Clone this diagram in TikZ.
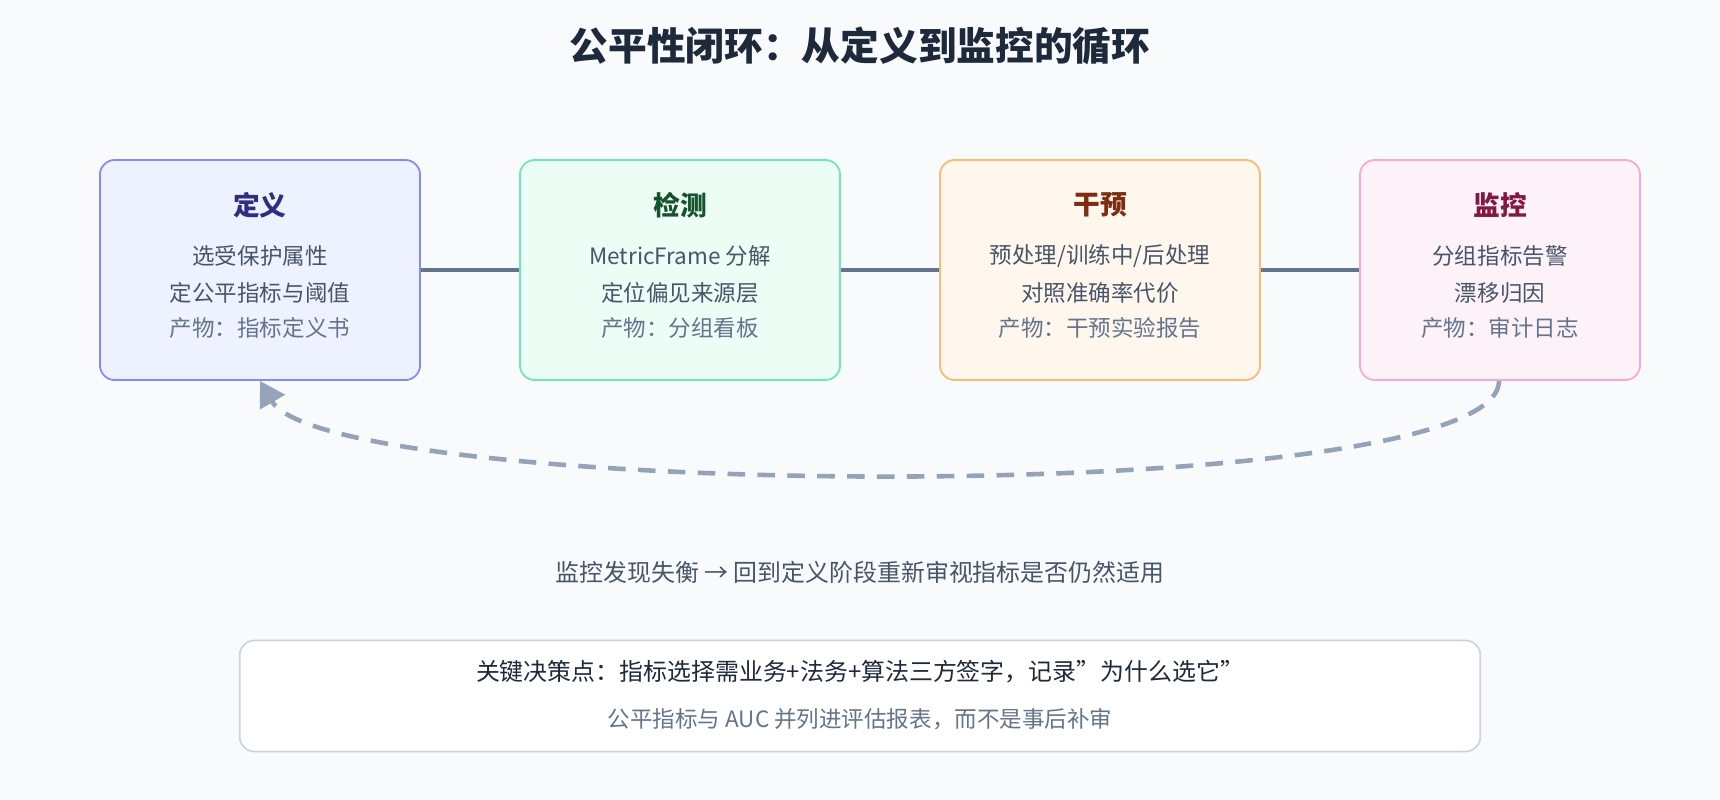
\documentclass[tikz,border=0pt]{standalone}
\usepackage{fontspec}
\setmainfont{Noto Sans CJK SC}
\usetikzlibrary{arrows.meta}
\definecolor{bg}{HTML}{F8FAFC}
\definecolor{ink}{HTML}{1E293B}
\definecolor{body}{HTML}{475569}
\definecolor{muted}{HTML}{64748B}
\definecolor{loopc}{HTML}{94A3B8}
\definecolor{f1}{HTML}{EEF2FF}\definecolor{s1}{HTML}{818CF8}\definecolor{t1}{HTML}{312E81}
\definecolor{f2}{HTML}{ECFDF5}\definecolor{s2}{HTML}{6EE7B7}\definecolor{t2}{HTML}{14532D}
\definecolor{f3}{HTML}{FFF7ED}\definecolor{s3}{HTML}{FDBA74}\definecolor{t3}{HTML}{7C2D12}
\definecolor{f4}{HTML}{FDF2F8}\definecolor{s4}{HTML}{F9A8D4}\definecolor{t4}{HTML}{831843}
\definecolor{s5}{HTML}{CBD5E1}

\begin{document}
\begin{tikzpicture}[x=0.01cm,y=-0.01cm,
    stage/.style={draw,rounded corners=0.15cm,line width=0.5pt,minimum height=2.2cm},
    head/.style={font=\fontsize{7.6}{9}\selectfont\bfseries},
    line/.style={font=\fontsize{6.4}{8}\selectfont,text=body},
    prod/.style={font=\fontsize{6.4}{8}\selectfont,text=muted},
    link/.style={draw=muted,line width=0.9pt}]
      \fill[bg] (0,0) rectangle (1720,800);
      \useasboundingbox (0,0) rectangle (1720,800);

      \node[font=\fontsize{11}{13}\selectfont\bfseries,text=ink] (title) at (860,46) {公平性闭环：从定义到监控的循环};

      % stages
      \node[stage,draw=s1,fill=f1,minimum width=3.2cm] (def) at (260,270) {};
      \node[stage,draw=s2,fill=f2,minimum width=3.2cm] (det) at (680,270) {};
      \node[stage,draw=s3,fill=f3,minimum width=3.2cm] (int) at (1100,270) {};
      \node[stage,draw=s4,fill=f4,minimum width=2.8cm] (mon) at (1500,270) {};

      \node[head,text=t1] (defh) at (260,205) {定义};
      \node[line] (def1) at (260,256) {选受保护属性};
      \node[line] (def2) at (260,293) {定公平指标与阈值};
      \node[prod] (def3) at (260,328) {产物：指标定义书};

      \node[head,text=t2] (deth) at (680,205) {检测};
      \node[line] (det1) at (680,256) {MetricFrame 分解};
      \node[line] (det2) at (680,293) {定位偏见来源层};
      \node[prod] (det3) at (680,328) {产物：分组看板};

      \node[head,text=t3] (inth) at (1100,205) {干预};
      \node[line] (int1) at (1100,256) {预处理/训练中/后处理};
      \node[line] (int2) at (1100,293) {对照准确率代价};
      \node[prod] (int3) at (1100,328) {产物：干预实验报告};

      \node[head,text=t4] (monh) at (1500,205) {监控};
      \node[line] (mon1) at (1500,256) {分组指标告警};
      \node[line] (mon2) at (1500,293) {漂移归因};
      \node[prod] (mon3) at (1500,328) {产物：审计日志};

      \draw[link] (def) -- (det);
      \draw[link] (det) -- (int);
      \draw[link] (int) -- (mon);

      % feedback loop
      \draw[draw=loopc,line width=1.3pt,dash pattern=on 5pt off 3.5pt,-{Triangle[length=7pt,width=8pt,fill=loopc]}]
        ([xshift=-0.01cm]mon.south) .. controls (1499,510) and (330,500) .. (def.south);

      \node[font=\fontsize{6.8}{8}\selectfont,text=body] (note) at (860,572) {监控发现失衡 → 回到定义阶段重新审视指标是否仍然适用};

      \node[draw=s5,fill=white,rounded corners=0.15cm,line width=0.5pt,minimum width=12.4cm,minimum height=1.11cm] (key) at (860,696) {};
      \node[font=\fontsize{6.8}{8}\selectfont,text=ink] (key1) at (860,672) {关键决策点：指标选择需业务+法务+算法三方签字，记录\symbol{34}为什么选它\symbol{34}};
      \node[prod] (key2) at (860,719) {公平指标与 AUC 并列进评估报表，而不是事后补审};
\end{tikzpicture}
\end{document}
